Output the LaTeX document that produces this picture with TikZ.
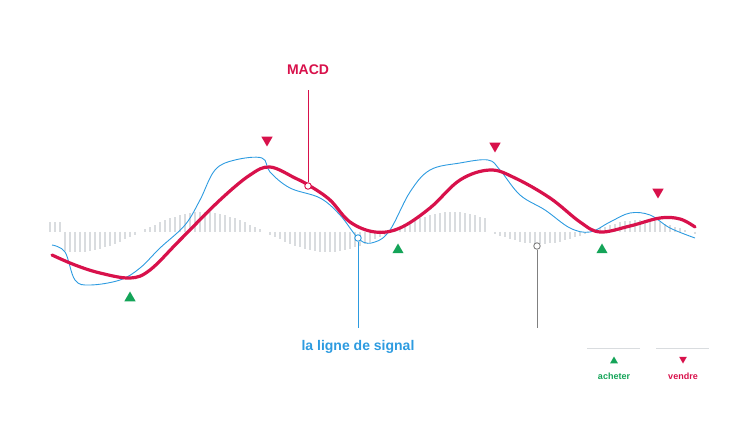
\documentclass[tikz,border=0pt]{standalone}
\usepackage{fontspec}
\setmainfont{Liberation Sans}
\definecolor{macdred}{HTML}{D8114B}
\definecolor{sigblue}{HTML}{2D9BE0}
\definecolor{buygreen}{HTML}{14A458}
\definecolor{histgrey}{HTML}{D9DCDF}
\tikzset{
  dot/.style={circle,draw=#1,fill=white,line width=0.9pt,inner sep=0pt,minimum size=6.5pt},
  buy/.style={regular polygon,regular polygon sides=3,fill=buygreen,inner sep=0pt,minimum size=13pt},
  sell/.style={regular polygon,regular polygon sides=3,shape border rotate=180,fill=macdred,inner sep=0pt,minimum size=13pt},
}
\usetikzlibrary{shapes.geometric}
\begin{document}
\begin{tikzpicture}[x=1pt,y=-1pt]
\useasboundingbox (0,0) rectangle (750,422);
% histogram
\foreach \x in {50,55,...,695}{
  \pgfmathsetmacro\h{(\x<62 ? 10 : (\x>488 ? -12*sin((\x-490)*1.8) : 20*sin((\x-140)*1.44)))}
  \draw[histgrey,line width=1.6pt] (\x,232) -- (\x,232-\h);
}
% signal line
\draw[sigblue,line width=0.9pt] plot[smooth,tension=0.6] coordinates {(52,245) (65,252) (75,280) (90,285) (120,280) (140,268) (160,248) (185,225) (200,200) (215,170) (235,160) (262,158) (270,172) (290,188) (320,198) (340,215) (360,240) (375,242) (390,230) (410,192) (430,170) (460,163) (488,160) (500,170) (520,195) (545,210) (570,228) (590,232) (610,222) (630,213) (650,215) (670,228) (695,238)};
% MACD line
\draw[macdred,line width=3.2pt,line cap=round] plot[smooth,tension=0.6] coordinates {(52,255) (75,265) (100,273) (130,278) (150,270) (180,240) (220,200) (250,175) (270,167) (295,178) (310,186) (330,200) (350,222) (375,232) (400,228) (430,208) (460,180) (490,170) (515,178) (550,198) (580,222) (600,232) (630,226) (660,218) (680,219) (695,227)};
% callouts
\coordinate (macdtop) at (308,90);
\coordinate (sigbot) at (358,328);
\coordinate (greybot) at (537,328);
\node[dot=macdred] (macddot) at (308,186) {};
\node[dot=sigblue] (sigdot) at (358,238) {};
\node[dot=gray] (greydot) at (537,246) {};
\draw[macdred,line width=0.7pt] (macddot) -- (macdtop);
\draw[sigblue,line width=0.7pt] (sigdot) -- (sigbot);
\draw[gray,line width=0.7pt] (greydot) -- (greybot);
\node[text=macdred,font=\bfseries\fontsize{14}{16}\selectfont] (macdlbl) at (308,70) {MACD};
\node[text=sigblue,font=\bfseries\fontsize{14}{16}\selectfont] (siglbl) at (358,347) {la ligne de signal};
% signals
\node[buy] (b1) at (130,298) {};
\node[buy] (b2) at (398,250) {};
\node[buy] (b3) at (602,250) {};
\node[sell] (s1) at (267,140) {};
\node[sell] (s2) at (495,146) {};
\node[sell] (s3) at (658,192) {};
% legend
\draw[histgrey,line width=1pt] (587,348) -- (640,348);
\draw[histgrey,line width=1pt] (656,348) -- (709,348);
\node[buy,minimum size=9pt] (lbuy) at (614,361) {};
\node[sell,minimum size=9pt] (lsell) at (683,359) {};
\node[text=buygreen,font=\bfseries\fontsize{9}{10}\selectfont] (lbuytxt) at (614,376) {acheter};
\node[text=macdred,font=\bfseries\fontsize{9}{10}\selectfont] (lselltxt) at (683,376) {vendre};
\end{tikzpicture}
\end{document}
